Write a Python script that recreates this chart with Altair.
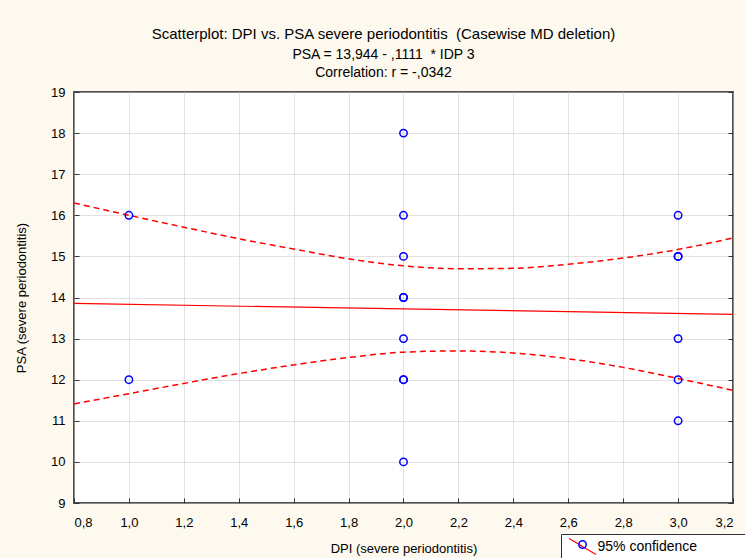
import altair as alt
import pandas as pd

# ---- data ----
dpi = [1.0, 1.0,
       2.0, 2.0, 2.0, 2.0, 2.0, 2.0, 2.0, 2.0, 2.0,
       3.0, 3.0, 3.0, 3.0, 3.0, 3.0]
psa = [16, 12,
       18, 16, 15, 14, 14, 13, 12, 12, 10,
       16, 15, 15, 13, 12, 11]

band_x = [0.8, 1.0, 1.2, 1.4, 1.6, 1.8, 2.0, 2.2, 2.4, 2.6, 2.8, 3.0, 3.2]
band_upper = [16.30, 16.00, 15.71, 15.43, 15.18, 14.94, 14.77, 14.70, 14.71, 14.81, 14.96, 15.17, 15.45]
band_lower = [11.41, 11.66, 11.91, 12.15, 12.36, 12.54, 12.67, 12.70, 12.65, 12.51, 12.30, 12.03, 11.74]

fit_x = [0.8, 3.2]
fit_y = [13.855, 13.588]

x_ticks = [0.8, 1.0, 1.2, 1.4, 1.6, 1.8, 2.0, 2.2, 2.4, 2.6, 2.8, 3.0, 3.2]
y_ticks = [9, 10, 11, 12, 13, 14, 15, 16, 17, 18, 19]

NB = "\u00a0"
PAD = "\u2003\u2003\u2003\u2009\u200d"   # invisible padding so the legend box runs off the right edge
legend_label = "95% confidence"
marker_key = "o"
title_lines = ["Scatterplot: DPI vs. PSA severe periodontitis " + NB + "(Casewise MD deletion)",
               "PSA = 13,944 - ,1111 " + NB + "* IDP 3",
               "Correlation: r = -,0342"]

# ---- tables ----
pts_df = pd.DataFrame({"dpi": dpi, "psa": psa, "marker": marker_key})
ci_df = pd.concat([
    pd.DataFrame({"dpi": band_x, "psa": band_upper, "band": "upper", "series": legend_label}),
    pd.DataFrame({"dpi": band_x, "psa": band_lower, "band": "lower", "series": legend_label}),
])
fit_df = pd.DataFrame({"dpi": fit_x, "psa": fit_y})

FONT = "Liberation Sans"
x_scale = alt.Scale(domain=[0.8, 3.2], nice=False, zero=False)
y_scale = alt.Scale(domain=[9, 19], nice=False, zero=False)

x_axis = alt.Axis(
    values=x_ticks, title="DPI (severe periodontitis)",
    labelExpr="replace(format(datum.value, '.1f'), '.', ',')",
    orient="bottom", offset=-5, tickSize=5, tickColor="#333333", domain=False,
    grid=True, gridColor="#c4c4c4", gridDash=[1, 1], gridWidth=1,
    labelPadding=13, labelFontSize=13, labelFont=FONT, labelColor="black",
    titleFontSize=13, titleFont=FONT, titleFontWeight="normal", titleColor="black",
    titlePadding=13,
)
y_axis_left = alt.Axis(
    values=y_ticks, title="PSA (severe periodontitis)",
    orient="left", offset=-5, tickSize=5, tickColor="#333333", domain=False,
    grid=True, gridColor="#c4c4c4", gridDash=[1, 1], gridWidth=1,
    labelPadding=9, labelFontSize=13, labelFont=FONT, labelColor="black",
    titleFontSize=13, titleFont=FONT, titleFontWeight="normal", titleColor="black",
    titlePadding=22,
)
y_axis_right = alt.Axis(
    values=y_ticks, title=None, orient="right", offset=-5, tickSize=5,
    tickColor="#333333", domain=False, grid=False, labels=False,
)

ci = alt.Chart(ci_df).mark_line(strokeDash=[6, 4], strokeWidth=1.5, interpolate="monotone").encode(
    x=alt.X("dpi:Q", scale=x_scale, axis=x_axis),
    y=alt.Y("psa:Q", scale=y_scale, axis=None),
    detail="band:N",
    color=alt.Color("series:N", scale=alt.Scale(domain=[legend_label], range=["#ff0000"]),
                    legend=alt.Legend(title=None, orient="none", legendX=487, legendY=442,
                                      padding=3.5, symbolType="M-1.69,-1L1.69,1", symbolSize=256,
                                      symbolStrokeWidth=1.2, symbolDash=[1, 0], symbolOffset=9,
                                      labelOffset=6, labelFontSize=14, labelFont=FONT,
                                      labelLimit=400,
                                      labelExpr="datum.label + '" + PAD + "'",
                                      labelColor="black", strokeColor="#333333",
                                      fillColor="white")),
)

fit = alt.Chart(fit_df).mark_line(color="#ff0000", strokeWidth=1.2).encode(
    x=alt.X("dpi:Q", scale=x_scale, axis=x_axis),
    y=alt.Y("psa:Q", scale=y_scale, axis=y_axis_right),
)

pts = alt.Chart(pts_df).mark_point(shape="circle", filled=False, color="#0000ff", size=55, strokeWidth=1.5, opacity=1).encode(
    x=alt.X("dpi:Q", scale=x_scale, axis=x_axis),
    y=alt.Y("psa:Q", scale=y_scale, axis=y_axis_left),
    shape=alt.Shape("marker:N", scale=alt.Scale(domain=[marker_key], range=["circle"]),
                    legend=alt.Legend(title=None, orient="none", legendX=504, legendY=448,
                                      padding=0, symbolSize=55, symbolStrokeColor="#0000ff",
                                      symbolFillColor="transparent", symbolStrokeWidth=1.5,
                                      labelExpr="''", labelFontSize=1)),
)

chart = alt.layer(ci, fit, pts).resolve_scale(y="independent").properties(
    width=659, height=411,
    padding={"left": 74, "top": 92, "right": 12, "bottom": 55},
    autosize=alt.AutoSizeParams(type="none"),
    background="#fdf9ee",
    title=alt.TitleParams(
        text=[title_lines[0]], subtitle=title_lines[1:],
        font=FONT, fontSize=15, fontWeight="normal", color="black",
        subtitleFont=FONT, subtitleFontSize=14, subtitleColor="black",
        subtitleLineHeight=18, subtitlePadding=6,
        anchor="middle", dx=-20, offset=6,
    ),
).configure_view(fill="white", stroke="#505050", strokeWidth=2)

chart.save("out.html", embed_options={"renderer": "svg", "actions": False})
